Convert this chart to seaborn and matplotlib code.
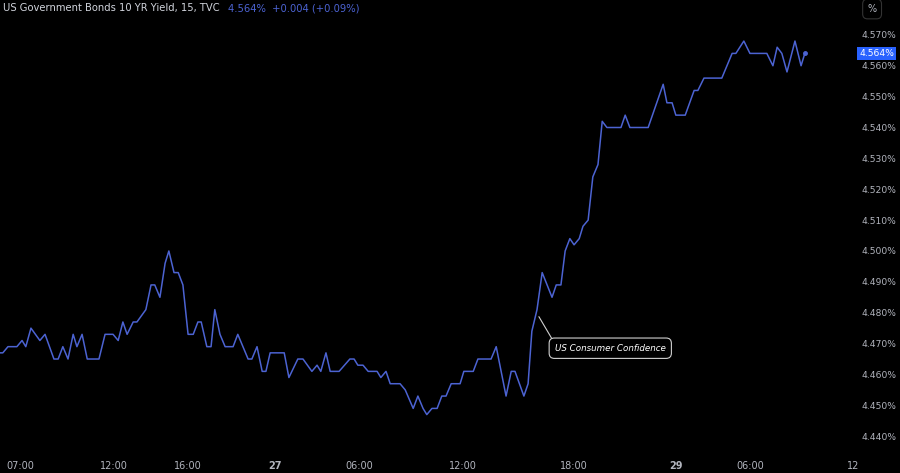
import matplotlib
matplotlib.use("Agg")
import matplotlib.pyplot as plt
import seaborn as sns
import pandas as pd

bars = [0.0,0.6,1.7,3.6,4.7,5.5,6.6,8.5,9.6,11.5,12.4,13.4,14.5,15.6,16.4,17.5,18.6,21.1,22.4,24.1,
        25.2,26.2,27.1,28.4,29.2,31.1,32.2,33.0,34.1,35.2,36.0,37.1,38.0,39.0,40.1,41.2,42.2,42.9,44.1,45.0,
        45.8,46.9,48.0,49.7,50.7,52.9,53.7,54.8,55.9,56.7,57.6,60.6,61.6,63.5,64.6,66.5,67.6,68.4,69.5,70.4,
        72.3,74.6,75.5,76.3,77.4,78.5,80.4,81.2,82.3,83.2,85.3,86.4,88.1,89.1,90.2,91.0,92.1,93.2,94.2,95.1,
        96.2,98.1,98.9,100.9,101.9,104.7,105.8,107.9,109.0,109.8,111.7,112.6,113.4,114.5,115.6,117.7,118.6,119.6,120.5,121.5,
        122.4,123.5,124.3,125.4,126.4,127.5,128.4,129.4,132.4,133.3,134.3,138.2,141.4,142.2,143.3,144.1,146.1,148.0,148.8,150.1,
        153.9,156.1,156.9,158.6,159.9,163.5,164.8,165.7,166.7,167.8,169.5,170.8,171.6]
yields = [4.467,4.467,4.469,4.469,4.471,4.469,4.475,4.471,4.473,4.465,4.465,4.469,4.465,4.473,4.469,4.473,4.465,4.465,4.473,4.473,
          4.471,4.477,4.473,4.477,4.477,4.481,4.489,4.489,4.485,4.496,4.500,4.493,4.493,4.489,4.473,4.473,4.477,4.477,4.469,4.469,
          4.481,4.473,4.469,4.469,4.473,4.465,4.465,4.469,4.461,4.461,4.467,4.467,4.459,4.465,4.465,4.461,4.463,4.461,4.467,4.461,
          4.461,4.465,4.465,4.463,4.463,4.461,4.461,4.459,4.461,4.457,4.457,4.455,4.449,4.453,4.449,4.447,4.449,4.449,4.453,4.453,
          4.457,4.457,4.461,4.461,4.465,4.465,4.469,4.453,4.461,4.461,4.453,4.457,4.474,4.481,4.493,4.485,4.489,4.489,4.500,4.504,
          4.502,4.504,4.508,4.510,4.524,4.528,4.542,4.540,4.540,4.544,4.540,4.540,4.554,4.548,4.548,4.544,4.544,4.552,4.552,4.556,
          4.556,4.564,4.564,4.568,4.564,4.564,4.560,4.566,4.564,4.558,4.568,4.560,4.564]
tick_pos = [4.3, 24.3, 40.1, 58.6, 76.5, 98.7, 122.4, 144.1, 159.9, 181.9]
tick_labels = ["07:00", "12:00", "16:00", "27", "06:00", "12:00", "18:00", "29", "06:00", "12"]
ytick_vals = [4.44, 4.45, 4.46, 4.47, 4.48, 4.49, 4.50, 4.51, 4.52, 4.53, 4.54, 4.55, 4.56, 4.57]
last_val = 4.564

sns.set_theme(style="dark")
plt.rcParams['font.family'] = ['DejaVu Sans']
LINE = "#4c63d2"
GREY = "#b2b5be"

fig = plt.figure(figsize=(9, 4.73), dpi=100, facecolor="black")
ax = fig.add_axes([0, 0.038, 0.95, 0.962])
ax.set_facecolor("black")
df = pd.DataFrame({"bar": bars, "yield": yields})
sns.lineplot(data=df, x="bar", y="yield", ax=ax, color=LINE, linewidth=1.1, sort=False)
ax.plot([bars[-1]], [yields[-1]], "o", color=LINE, markersize=2.5)

ax.set_xlim(0, 182.3)
ax.set_ylim(4.4339, 4.5813)
ax.grid(False)
for s in ax.spines.values():
    s.set_visible(False)
ax.set_xlabel(""); ax.set_ylabel("")
ax.set_xticks(tick_pos)
ax.set_xticklabels(tick_labels)
for t, lab in zip(ax.get_xticklabels(), tick_labels):
    if lab in ("27", "29"):
        t.set_fontweight("bold")
ax.tick_params(axis="x", colors=GREY, labelsize=7, length=0, pad=4)
ax.yaxis.tick_right()
ax.set_yticks(ytick_vals)
ax.set_yticklabels([f"{v:.3f}%" for v in ytick_vals])
ax.tick_params(axis="y", colors=GREY, labelsize=6.6, length=0, pad=5)

ax.annotate("US Consumer Confidence", xy=(114.6, 4.4795), xytext=(118.3, 4.4685),
            color="white", fontsize=6.3, style="italic", va="center", ha="left",
            bbox=dict(boxstyle="round,pad=0.65,rounding_size=0.6", fc="black", ec="#d0d0d0", lw=0.8),
            arrowprops=dict(arrowstyle="-", color="#d0d0d0", lw=0.8, shrinkA=0, shrinkB=2,
                            relpos=(0.0, 1.0)))

ax.text(1.005, (last_val - 4.4339) / (4.5813 - 4.4339), f"{last_val:.3f}%", transform=ax.transAxes,
        color="white", fontsize=6.6, va="center", ha="left",
        bbox=dict(boxstyle="square,pad=0.25", fc="#2962ff", ec="none"))

fig.text(0.003, 0.983, "US Government Bonds 10 YR Yield, 15, TVC", color="#d1d4dc", fontsize=7.2, va="center")
fig.text(0.253, 0.983, "4.564%  +0.004 (+0.09%)", color="#4c63d2", fontsize=7.2, va="center")
fig.text(0.969, 0.981, "%", color=GREY, fontsize=7, va="center", ha="center",
         bbox=dict(boxstyle="round,pad=0.5", fc="black", ec="#333333", lw=0.8))

fig.savefig("out.png", dpi=100, facecolor="black")
